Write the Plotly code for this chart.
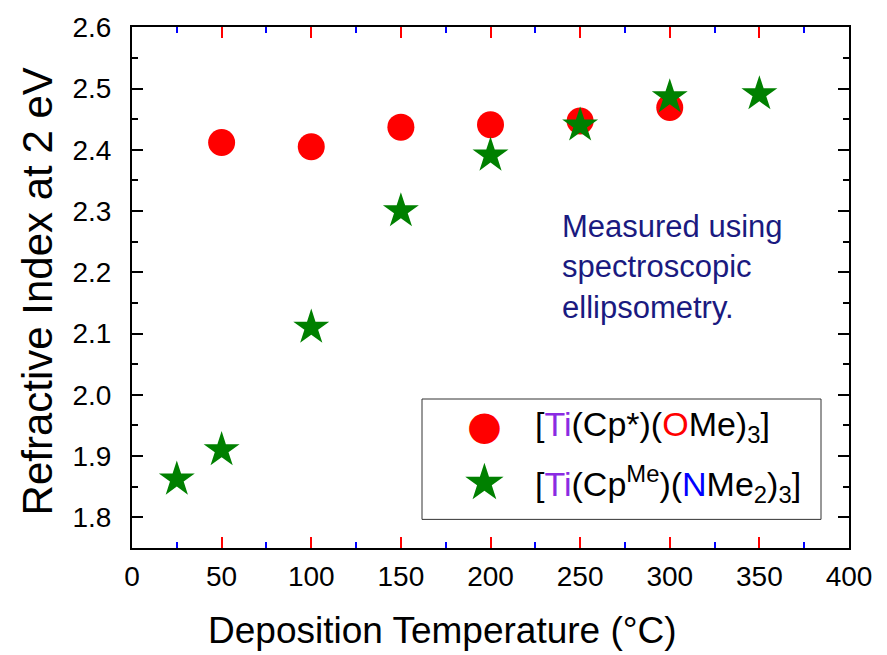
import plotly.graph_objects as go

# Data
temp_cpstar = [50, 100, 150, 200, 250, 300]
n_cpstar = [2.412, 2.405, 2.437, 2.441, 2.447, 2.469]

temp_cpme = [25, 50, 100, 150, 200, 250, 300, 350]
n_cpme = [1.862, 1.910, 2.110, 2.300, 2.391, 2.440, 2.486, 2.491]

x_ticks = [0, 50, 100, 150, 200, 250, 300, 350, 400]
y_ticks = [1.8, 1.9, 2.0, 2.1, 2.2, 2.3, 2.4, 2.5, 2.6]

name_cpstar = ("[<span style='color:#8a2be2'>Ti</span>(Cp*)(<span style='color:#ff0000'>O</span>Me)<sub>3</sub>]")
name_cpme = ("[<span style='color:#8a2be2'>Ti</span>(Cp<sup>Me</sup>)(<span style='color:#0000ff'>N</span>Me<sub>2</sub>)<sub>3</sub>]")

FONT = "Liberation Sans, Arial, sans-serif"

fig = go.Figure()
fig.add_trace(go.Scatter(x=temp_cpstar, y=n_cpstar, mode="markers", name="[Ti(Cp*)(OMe)3]",
                         marker=dict(symbol="circle", size=27, color="#ff0000"),
                         showlegend=False))
fig.add_trace(go.Scatter(x=temp_cpme, y=n_cpme, mode="markers", name="[Ti(CpMe)(NMe2)3]",
                         marker=dict(symbol="star", size=27, color="#008000"),
                         showlegend=False))

L, R, T, B = 132, 849, 20, 548
def px(xp):
    return (xp - L) / (R - L)
def py(yp):
    return (B - yp) / (B - T)

axis_common = dict(showline=True, linewidth=2, linecolor="black", mirror="ticks",
                   ticks="inside", ticklen=11, tickwidth=2,
                   showgrid=False, zeroline=False,
                   tickfont=dict(family=FONT, size=28, color="black"))

fig.update_xaxes(range=[0, 400], tickvals=x_ticks, tickcolor="red",
                 minor=dict(ticks="inside", ticklen=6, tickwidth=2, tickcolor="blue", dtick=25, tick0=0),
                 ticklabelstandoff=2, **axis_common)
fig.update_yaxes(range=[1.75, 2.6005], tickvals=y_ticks, tickformat=".1f", tickcolor="black",
                 minor=dict(ticks="inside", ticklen=6, tickwidth=2, tickcolor="black", dtick=0.05, tick0=0),
                 ticklabelstandoff=13, **axis_common)

annotations = [
    dict(text="Deposition Temperature (°C)", xref="paper", yref="paper",
         x=px(442), y=py(632), xanchor="center", yanchor="middle", showarrow=False,
         font=dict(family=FONT, size=37, color="black")),
    dict(text="Refractive Index at 2 eV", xref="paper", yref="paper",
         x=px(37), y=py(288), xanchor="center", yanchor="middle", showarrow=False, textangle=-90,
         font=dict(family=FONT, size=42, color="black")),
    dict(text="Measured using<br>spectroscopic<br>ellipsometry.", xref="paper", yref="paper",
         x=px(560), y=py(263), xanchor="left", yanchor="middle", align="left", showarrow=False,
         font=dict(family=FONT, size=31, color="#1a1a80")),
    dict(text="●", xref="paper", yref="paper", x=px(484), y=py(423), xanchor="center", yanchor="middle",
         showarrow=False, font=dict(family="DejaVu Sans", size=40, color="#ff0000")),
    dict(text="★", xref="paper", yref="paper", x=px(484), y=py(481), xanchor="center", yanchor="middle",
         showarrow=False, font=dict(family="DejaVu Sans", size=50, color="#008000")),
    dict(text=name_cpstar, xref="paper", yref="paper", x=px(533), y=py(425), xanchor="left", yanchor="middle",
         showarrow=False, font=dict(family=FONT, size=34, color="black")),
    dict(text=name_cpme, xref="paper", yref="paper", x=px(533), y=py(483), xanchor="left", yanchor="middle",
         showarrow=False, font=dict(family=FONT, size=34, color="black")),
]

shapes = [dict(type="rect", xref="paper", yref="paper", x0=px(422), x1=px(821), y0=py(519), y1=py(397),
               line=dict(color="#333333", width=1), fillcolor="rgba(0,0,0,0)", layer="above")]

fig.update_layout(width=887, height=655, margin=dict(l=L, r=887 - R, t=T, b=655 - B),
                  paper_bgcolor="white", plot_bgcolor="white",
                  annotations=annotations, shapes=shapes, showlegend=False)

fig.write_html("out.html")
